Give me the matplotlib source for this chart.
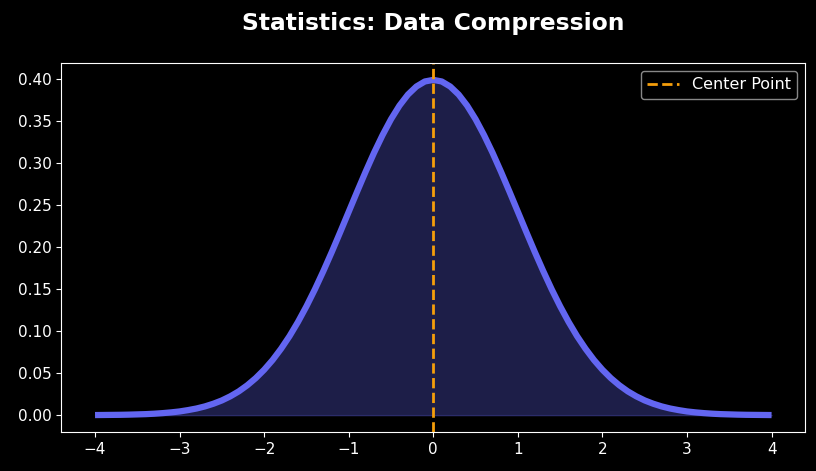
import matplotlib
matplotlib.use("Agg")
import matplotlib.pyplot as plt

# density curve (x step 0.1)
x = [-4.0, -3.9, -3.8, -3.7, -3.6, -3.5, -3.4, -3.3, -3.2, -3.1,
     -3.0, -2.9, -2.8, -2.7, -2.6, -2.5, -2.4, -2.3, -2.2, -2.1,
     -2.0, -1.9, -1.8, -1.7, -1.6, -1.5, -1.4, -1.3, -1.2, -1.1,
     -1.0, -0.9, -0.8, -0.7, -0.6, -0.5, -0.4, -0.3, -0.2, -0.1,
     0.0,
     0.1, 0.2, 0.3, 0.4, 0.5, 0.6, 0.7, 0.8, 0.9, 1.0,
     1.1, 1.2, 1.3, 1.4, 1.5, 1.6, 1.7, 1.8, 1.9, 2.0,
     2.1, 2.2, 2.3, 2.4, 2.5, 2.6, 2.7, 2.8, 2.9, 3.0,
     3.1, 3.2, 3.3, 3.4, 3.5, 3.6, 3.7, 3.8, 3.9, 4.0]
y = [0.0001, 0.0002, 0.0003, 0.0004, 0.0006, 0.0009, 0.0012, 0.0017, 0.0024, 0.0033,
     0.0044, 0.0060, 0.0079, 0.0104, 0.0136, 0.0175, 0.0224, 0.0283, 0.0355, 0.0440,
     0.0540, 0.0656, 0.0790, 0.0940, 0.1109, 0.1295, 0.1497, 0.1714, 0.1942, 0.2179,
     0.2420, 0.2661, 0.2897, 0.3123, 0.3332, 0.3521, 0.3683, 0.3814, 0.3910, 0.3970,
     0.3989,
     0.3970, 0.3910, 0.3814, 0.3683, 0.3521, 0.3332, 0.3123, 0.2897, 0.2661, 0.2420,
     0.2179, 0.1942, 0.1714, 0.1497, 0.1295, 0.1109, 0.0940, 0.0790, 0.0656, 0.0540,
     0.0440, 0.0355, 0.0283, 0.0224, 0.0175, 0.0136, 0.0104, 0.0079, 0.0060, 0.0044,
     0.0033, 0.0024, 0.0017, 0.0012, 0.0009, 0.0006, 0.0004, 0.0003, 0.0002, 0.0001]
center = 0.0

plt.style.use("dark_background")
fig, ax = plt.subplots(figsize=(8.16, 4.71), dpi=100)
ax.fill_between(x, y, color="#6366F1", alpha=0.3)
ax.plot(x, y, color="#6366F1", lw=4.5, solid_capstyle="butt")
ax.axvline(center, color="#F59E0B", lw=2, ls="--", label="Center Point")
ax.set_title("Statistics: Data Compression", fontsize=16.8, fontweight="bold", pad=24)
ax.legend(loc="upper right", fontsize=11.5, edgecolor="#aaaaaa")
ax.set_yticks([0.0, 0.05, 0.10, 0.15, 0.20, 0.25, 0.30, 0.35, 0.40])
ax.tick_params(labelsize=11)
fig.subplots_adjust(left=0.075, right=0.987, top=0.866, bottom=0.083)
fig.savefig("out.png", dpi=100)
